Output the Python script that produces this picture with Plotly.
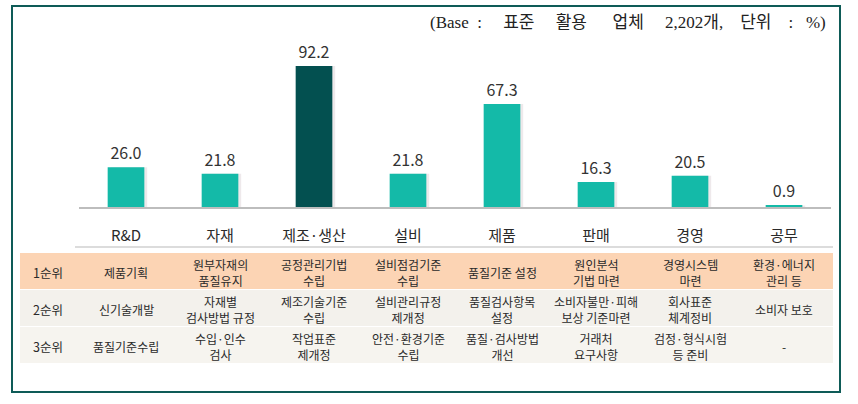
import plotly.graph_objects as go

W, H = 858, 404

categories = ["R&D", "자재", "제조·생산", "설비", "제품", "판매", "경영", "공무"]
values = [26.0, 21.8, 92.2, 21.8, 67.3, 16.3, 20.5, 0.9]
highlight = "제조·생산"

rank_labels = ["1순위", "2순위", "3순위"]
rank1 = ["제품기획", "원부자재의<br>품질유지", "공정관리기법<br>수립", "설비점검기준<br>수립",
         "품질기준 설정", "원인분석<br>기법 마련", "경영시스템<br>마련", "환경·에너지<br>관리 등"]
rank2 = ["신기술개발", "자재별<br>검사방법 규정", "제조기술기준<br>수립", "설비관리규정<br>제개정",
         "품질검사항목<br>설정", "소비자불만·피해<br>보상 기준마련", "회사표준<br>체계정비", "소비자 보호"]
rank3 = ["품질기준수립", "수입·인수<br>검사", "작업표준<br>제개정", "안전·환경기준<br>수립",
         "품질·검사방법<br>개선", "거래처<br>요구사항", "검정·형식시험<br>등 준비", "-"]
rank_rows = [rank1, rank2, rank3]

NB = "\u00a0"
title_words = ["(Base", ":", "표준", "활용", "업체", "2,202개,", "단위", ":", "%)"]
title_gaps = [2, 5, 5, 6, 5, 4, 4, 3]

TEAL = "#14BAA8"
DARK = "#035050"
FONT = "Noto Sans CJK KR"


def px_x(x):
    return x / W


def px_y(y):
    return 1 - y / H


colors = [DARK if c == highlight else TEAL for c in categories]
bar_w = 0.39

fig = go.Figure()
# soft shadow behind bars
fig.add_trace(go.Bar(
    x=categories, y=values, marker=dict(color="rgba(150,120,130,0.16)", line=dict(width=0)),
    width=bar_w, offset=-bar_w / 2 + 0.03, hoverinfo="skip", showlegend=False,
))
fig.add_trace(go.Bar(
    x=categories, y=values, marker=dict(color=colors, line=dict(width=0)),
    width=bar_w, offset=-bar_w / 2,
    text=[f"{v:.1f}" for v in values], textposition="outside",
    textfont=dict(family=FONT, size=16, color="#333333"),
    cliponaxis=False, showlegend=False,
))

base_px, top_px = 207, 20
ymax = (base_px - top_px) / 1.53

fig.update_layout(
    width=W, height=H, margin=dict(l=0, r=0, t=0, b=0),
    paper_bgcolor="white", plot_bgcolor="white",
    barmode="overlay",
    xaxis=dict(domain=[px_x(79), px_x(831)], range=[-0.5, 7.5], showgrid=False,
               showline=True, linecolor="#BDBDBD", linewidth=1.5,
               tickfont=dict(family=FONT, size=15, color="#2a2a2a"),
               ticks="", ticklabelstandoff=14, zeroline=False),
    yaxis=dict(domain=[px_y(base_px), px_y(top_px)], range=[0, ymax], visible=False),
)

shapes = []
shapes.append(dict(type="line", xref="paper", yref="paper",
                   x0=px_x(75), x1=px_x(833), y0=px_y(247), y1=px_y(247),
                   line=dict(color="#DCDCDC", width=2)))
row_bounds = [(253, 290), (290, 327), (327, 364)]
row_colors = ["#FCD4B4", "#F3F1EC", "#F6F4EF"]
for (y0, y1), col in zip(row_bounds, row_colors):
    shapes.append(dict(type="rect", xref="paper", yref="paper",
                       x0=px_x(20), x1=px_x(833), y0=px_y(y1 - 1), y1=px_y(y0),
                       fillcolor=col, line=dict(width=0), layer="below"))
shapes.append(dict(type="rect", xref="paper", yref="paper",
                   x0=px_x(12), x1=px_x(840), y0=px_y(392), y1=px_y(6),
                   line=dict(color="#0E5B57", width=2)))

annotations = []
for (y0, y1), rl, row in zip(row_bounds, rank_labels, rank_rows):
    yc = (y0 + y1) / 2 + 1
    annotations.append(dict(text=rl, xref="paper", yref="paper", x=px_x(48), y=px_y(yc),
                            showarrow=False, xanchor="center", yanchor="middle",
                            font=dict(family=FONT, size=12.5, color="#2a2a2a")))
    for cat, cell in zip(categories, row):
        annotations.append(dict(text=cell, xref="x", yref="paper", x=cat, y=px_y(yc),
                                showarrow=False, xanchor="center", yanchor="middle",
                                font=dict(family=FONT, size=12, color="#2a2a2a")))

title_text = title_words[0]
for g, w in zip(title_gaps, title_words[1:]):
    title_text += NB * g + w
annotations.append(dict(text=title_text, xref="paper", yref="paper", x=px_x(828), y=px_y(22),
                        showarrow=False, xanchor="right", yanchor="middle",
                        font=dict(family="Liberation Serif, Noto Sans CJK KR", size=17, color="#222222")))

fig.update_layout(shapes=shapes, annotations=annotations)
fig.write_html("out.html", config={"displayModeBar": False},
               post_script="document.body.style.margin='0';")
